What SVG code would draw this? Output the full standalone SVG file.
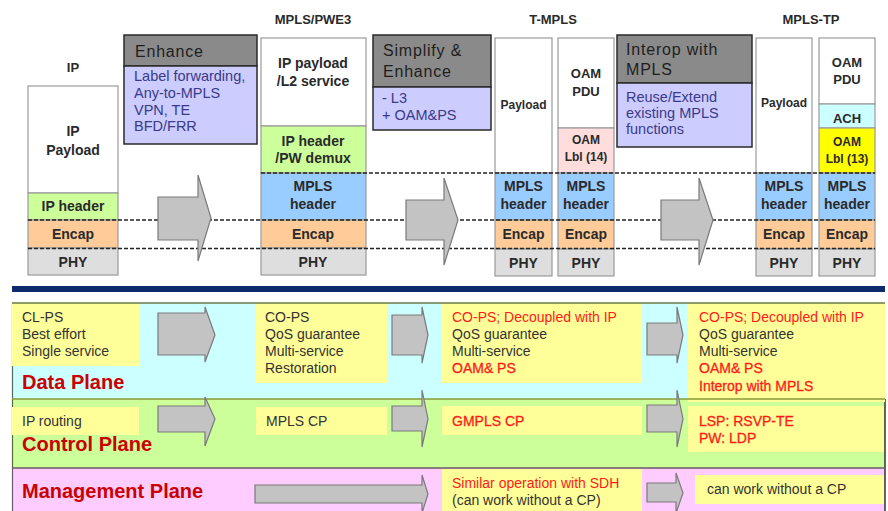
<svg xmlns="http://www.w3.org/2000/svg" width="888" height="511" viewBox="0 0 888 511">
  <defs>
    <style>
      text { font-family: "Liberation Sans", Arial, sans-serif; }
      .cell { stroke: #9a9a9a; stroke-width: 1.2; }
      .white { fill: #ffffff; }
      .green { fill: #ccff99; }
      .blue { fill: #99ccff; }
      .orange { fill: #ffcc99; }
      .gray { fill: #dedede; }
      .pink { fill: #ffdddd; }
      .cyan { fill: #ccffff; }
      .yel { fill: #ffff00; }
      .lbl { font-weight: bold; font-size: 14px; fill: #2a2a2a; text-anchor: middle; }
      .sm { font-size: 12px; }
      .md { font-size: 13px; }
      .title { font-weight: bold; font-size: 13px; fill: #2a2a2a; text-anchor: middle; }
      .hbox { fill: #8a8a8a; stroke: #2a2a2a; stroke-width: 1.5; }
      .bbox { fill: #ccccff; stroke: #2a2a2a; stroke-width: 1.5; }
      .htxt { font-size: 16px; letter-spacing: 0.8px; fill: #1e1e1e; }
      .btxt { font-size: 14.5px; fill: #3a3a8a; }
      .arrow { fill: #c3c3c3; stroke: #7a7a7a; stroke-width: 1.2; }
      .dash { stroke: #222; stroke-width: 1.3; stroke-dasharray: 4 2; fill: none; }
      .note { fill: #ffff99; }
      .txt { font-size: 14px; fill: #333333; }
      .red { fill: #ff1a1a; }
      .redb { fill: #ff1a1a; font-size: 14px; stroke: #ff1a1a; stroke-width: 0.3; }
      .plane { font-weight: bold; font-size: 20px; fill: #cc0000; }
    </style>
  </defs>

  <rect x="0" y="0" width="888" height="511" fill="#ffffff"/>

  <!-- ===== Protocol stacks ===== -->
  <g id="stack-ip">
    <text class="title" x="73" y="72">IP</text>
    <rect class="cell white" x="28" y="86" width="90" height="107"/>
    <rect class="cell green" x="28" y="193" width="90" height="27"/>
    <rect class="cell orange" x="28" y="220" width="90" height="28"/>
    <rect class="cell gray" x="28" y="248" width="90" height="27"/>
    <text class="lbl" x="73" y="136">IP</text>
    <text class="lbl" x="73" y="155">Payload</text>
    <text class="lbl" x="73" y="211">IP header</text>
    <text class="lbl" x="73" y="239">Encap</text>
    <text class="lbl" x="73" y="267">PHY</text>
  </g>

  <g id="stack-mpls-pwe3">
    <text class="title" x="313" y="24">MPLS/PWE3</text>
    <rect class="cell white" x="261" y="38" width="105" height="88"/>
    <rect class="cell green" x="261" y="126" width="105" height="47"/>
    <rect class="cell blue" x="261" y="173" width="105" height="47"/>
    <rect class="cell orange" x="261" y="220" width="105" height="28"/>
    <rect class="cell gray" x="261" y="248" width="105" height="27"/>
    <text class="lbl" x="313" y="68">IP payload</text>
    <text class="lbl" x="313" y="86">/L2 service</text>
    <text class="lbl" x="313" y="146">IP header</text>
    <text class="lbl" x="313" y="163">/PW demux</text>
    <text class="lbl" x="313" y="191">MPLS</text>
    <text class="lbl" x="313" y="209">header</text>
    <text class="lbl" x="313" y="239">Encap</text>
    <text class="lbl" x="313" y="267">PHY</text>
  </g>

  <g id="stack-t-mpls">
    <text class="title" x="553" y="24">T-MPLS</text>
    <!-- payload column -->
    <rect class="cell white" x="495" y="38" width="57" height="135"/>
    <rect class="cell blue" x="495" y="173" width="57" height="47"/>
    <rect class="cell orange" x="495" y="220" width="57" height="29"/>
    <rect class="cell gray" x="495" y="249" width="57" height="27"/>
    <text class="lbl sm" x="523.5" y="109">Payload</text>
    <text class="lbl" x="523.5" y="191">MPLS</text>
    <text class="lbl" x="523.5" y="209">header</text>
    <text class="lbl" x="523.5" y="239">Encap</text>
    <text class="lbl" x="523.5" y="268">PHY</text>
    <!-- OAM column -->
    <rect class="cell white" x="558" y="38" width="56" height="90"/>
    <rect class="cell pink" x="558" y="128" width="56" height="45"/>
    <rect class="cell blue" x="558" y="173" width="56" height="47"/>
    <rect class="cell orange" x="558" y="220" width="56" height="29"/>
    <rect class="cell gray" x="558" y="249" width="56" height="27"/>
    <text class="lbl md" x="586" y="78">OAM</text>
    <text class="lbl md" x="586" y="96">PDU</text>
    <text class="lbl sm" x="586" y="144">OAM</text>
    <text class="lbl sm" x="586" y="161">Lbl (14)</text>
    <text class="lbl" x="586" y="191">MPLS</text>
    <text class="lbl" x="586" y="209">header</text>
    <text class="lbl" x="586" y="239">Encap</text>
    <text class="lbl" x="586" y="268">PHY</text>
  </g>

  <g id="stack-mpls-tp">
    <text class="title" x="811" y="24">MPLS-TP</text>
    <!-- payload column -->
    <rect class="cell white" x="756" y="38" width="56" height="135"/>
    <rect class="cell blue" x="756" y="173" width="56" height="47"/>
    <rect class="cell orange" x="756" y="220" width="56" height="29"/>
    <rect class="cell gray" x="756" y="249" width="56" height="27"/>
    <text class="lbl sm" x="784" y="107">Payload</text>
    <text class="lbl" x="784" y="191">MPLS</text>
    <text class="lbl" x="784" y="209">header</text>
    <text class="lbl" x="784" y="239">Encap</text>
    <text class="lbl" x="784" y="268">PHY</text>
    <!-- OAM column -->
    <rect class="cell white" x="819" y="38" width="56" height="66"/>
    <rect class="cell cyan" x="819" y="104" width="56" height="24"/>
    <rect class="cell yel" x="819" y="128" width="56" height="45"/>
    <rect class="cell blue" x="819" y="173" width="56" height="47"/>
    <rect class="cell orange" x="819" y="220" width="56" height="29"/>
    <rect class="cell gray" x="819" y="249" width="56" height="27"/>
    <text class="lbl md" x="847" y="67">OAM</text>
    <text class="lbl md" x="847" y="84">PDU</text>
    <text class="lbl md" x="847" y="123">ACH</text>
    <text class="lbl sm" x="847" y="146">OAM</text>
    <text class="lbl sm" x="847" y="163">Lbl (13)</text>
    <text class="lbl" x="847" y="191">MPLS</text>
    <text class="lbl" x="847" y="209">header</text>
    <text class="lbl" x="847" y="239">Encap</text>
    <text class="lbl" x="847" y="268">PHY</text>
  </g>

  <!-- ===== Evolution steps ===== -->
  <g id="step-enhance">
    <rect class="hbox" x="124" y="35" width="133" height="31"/>
    <rect class="bbox" x="124" y="66" width="133" height="78"/>
    <text class="htxt" x="135" y="57">Enhance</text>
    <text class="btxt" x="134" y="81">Label forwarding,</text>
    <text class="btxt" x="134" y="98">Any-to-MPLS</text>
    <text class="btxt" x="134" y="115">VPN, TE</text>
    <text class="btxt" x="134" y="131">BFD/FRR</text>
  </g>

  <g id="step-simplify">
    <rect class="hbox" x="373" y="35" width="118" height="52"/>
    <rect class="bbox" x="373" y="87" width="118" height="43"/>
    <text class="htxt" x="383" y="56">Simplify &amp;</text>
    <text class="htxt" x="383" y="77">Enhance</text>
    <text class="btxt" x="382" y="103">- L3</text>
    <text class="btxt" x="382" y="120">+ OAM&amp;PS</text>
  </g>

  <g id="step-interop">
    <rect class="hbox" x="617" y="35" width="135" height="48"/>
    <rect class="bbox" x="617" y="83" width="135" height="64"/>
    <text class="htxt" x="626" y="55">Interop with</text>
    <text class="htxt" x="626" y="75">MPLS</text>
    <text class="btxt" x="626" y="102">Reuse/Extend</text>
    <text class="btxt" x="626" y="118">existing MPLS</text>
    <text class="btxt" x="626" y="134">functions</text>
  </g>

  <!-- ===== Planes ===== -->
  <rect x="12" y="286" width="873" height="6" fill="#0d2b6b"/>

  <g id="band-data">
    <rect x="12" y="303" width="873" height="96" fill="#ccffff"/>
    <line x1="12.5" y1="303" x2="12.5" y2="399" stroke="#5a6a5a" stroke-width="1.2"/>
  </g>
  <g id="band-control">
    <rect x="12" y="399" width="873" height="69" fill="#ccff99"/>
    <line x1="12.5" y1="399" x2="12.5" y2="468" stroke="#5a6a3a" stroke-width="1.2"/>
    <line x1="885" y1="399" x2="885" y2="468" stroke="#333" stroke-width="1.5"/>
  </g>
  <g id="band-management">
    <rect x="12" y="468" width="873" height="43" fill="#ffccff"/>
    <line x1="12.5" y1="468" x2="12.5" y2="511" stroke="#6a5a6a" stroke-width="1.2"/>
    <line x1="885" y1="468" x2="885" y2="511" stroke="#333" stroke-width="1.5"/>
  </g>

  <g id="data-ip">
    <rect class="note" x="12" y="303" width="127" height="63"/>
    <text class="txt" x="22" y="322">CL-PS</text>
    <text class="txt" x="22" y="339">Best effort</text>
    <text class="txt" x="22" y="356">Single service</text>
  </g>
  <g id="data-mpls">
    <rect class="note" x="255" y="303" width="132" height="80"/>
    <text class="txt" x="265" y="322">CO-PS</text>
    <text class="txt" x="265" y="339">QoS guarantee</text>
    <text class="txt" x="265" y="356">Multi-service</text>
    <text class="txt" x="265" y="373">Restoration</text>
  </g>
  <g id="data-tmpls">
    <rect class="note" x="442" y="303" width="200" height="80"/>
    <text class="txt red" x="452" y="322">CO-PS; Decoupled with IP</text>
    <text class="txt" x="452" y="339">QoS guarantee</text>
    <text class="txt" x="452" y="356">Multi-service</text>
    <text class="redb" x="452" y="373">OAM&amp; PS</text>
  </g>
  <g id="data-mplstp">
    <rect class="note" x="688" y="303" width="197" height="99"/>
    <text class="txt red" x="699" y="322">CO-PS; Decoupled with IP</text>
    <text class="txt" x="699" y="339">QoS guarantee</text>
    <text class="txt" x="699" y="356">Multi-service</text>
    <text class="redb" x="699" y="373">OAM&amp; PS</text>
    <text class="redb" x="699" y="391">Interop with MPLS</text>
  </g>

  <g id="ctrl-ip">
    <rect class="note" x="12" y="407" width="127" height="28"/>
    <text class="txt" x="22" y="426">IP routing</text>
  </g>
  <g id="ctrl-mpls">
    <rect class="note" x="256" y="407" width="131" height="28"/>
    <text class="txt" x="266" y="426">MPLS CP</text>
  </g>
  <g id="ctrl-tmpls">
    <rect class="note" x="442" y="406" width="200" height="29"/>
    <text class="redb" x="452" y="426">GMPLS CP</text>
  </g>
  <g id="ctrl-mplstp">
    <rect class="note" x="688" y="406" width="196" height="46"/>
    <text class="redb" x="699" y="426">LSP: RSVP-TE</text>
    <text class="redb" x="699" y="443">PW: LDP</text>
  </g>

  <g id="mgmt-tmpls">
    <rect class="note" x="442" y="469" width="200" height="42"/>
    <text class="txt red" x="452" y="488">Similar operation with SDH</text>
    <text class="txt" x="452" y="505">(can work without a CP)</text>
  </g>
  <g id="mgmt-mplstp">
    <rect class="note" x="695" y="475" width="189" height="29"/>
    <text class="txt" x="707" y="494">can work without a CP</text>
  </g>

  <!-- band separators drawn over the boxes -->
  <g id="band-lines" stroke-width="1.5">
    <line x1="12" y1="303" x2="885" y2="303" stroke="#6a7a4a"/>
    <line x1="12" y1="399" x2="885" y2="399" stroke="#8a9a3a"/>
    <line x1="12" y1="468" x2="885" y2="468" stroke="#6a5a6a"/>
  </g>

  <g id="plane-titles">
    <text class="plane" x="22" y="389">Data Plane</text>
    <text class="plane" x="22" y="451">Control Plane</text>
    <text class="plane" x="22" y="498">Management Plane</text>
  </g>

  <!-- ===== Connectors ===== -->
  <g id="connectors">
    <!-- layer alignment guides -->
    <line class="dash" x1="261" y1="173" x2="875" y2="173"/>
    <line class="dash" x1="28" y1="220" x2="875" y2="220"/>
    <line class="dash" x1="28" y1="248.5" x2="875" y2="248.5"/>

    <!-- stack evolution arrows -->
    <polygon class="arrow" points="158,197 198,197 198,175 211,218 198,261 198,240 158,240"/>
    <polygon class="arrow" points="406,200 444,200 444,178 458,220 444,265 444,240 406,240"/>
    <polygon class="arrow" points="661,200 699,200 699,178 713,220 699,265 699,240 661,240"/>

    <!-- data plane arrows -->
    <polygon class="arrow" points="158,313 205,313 205,307 215,335 205,362 205,355 158,355"/>
    <polygon class="arrow" points="392,315 422,315 422,307 428,335 422,363 422,355 392,355"/>
    <polygon class="arrow" points="647,323 677,323 677,307 683,335 677,363 677,355 647,355"/>

    <!-- control plane arrows -->
    <polygon class="arrow" points="158,406 205,406 205,397 215,419 205,446 205,432 158,432"/>
    <polygon class="arrow" points="392,406 422,406 422,390 428,419 422,447 422,431 392,431"/>
    <polygon class="arrow" points="647,405 677,405 677,390 683,419 677,447 677,432 647,432"/>

    <!-- management plane arrows -->
    <polygon class="arrow" points="255,485 422,485 422,475 428,494 422,513 422,503 255,503"/>
    <polygon class="arrow" points="647,483 676,483 676,473 683,493 676,513 676,502 647,502"/>
  </g>
</svg>
